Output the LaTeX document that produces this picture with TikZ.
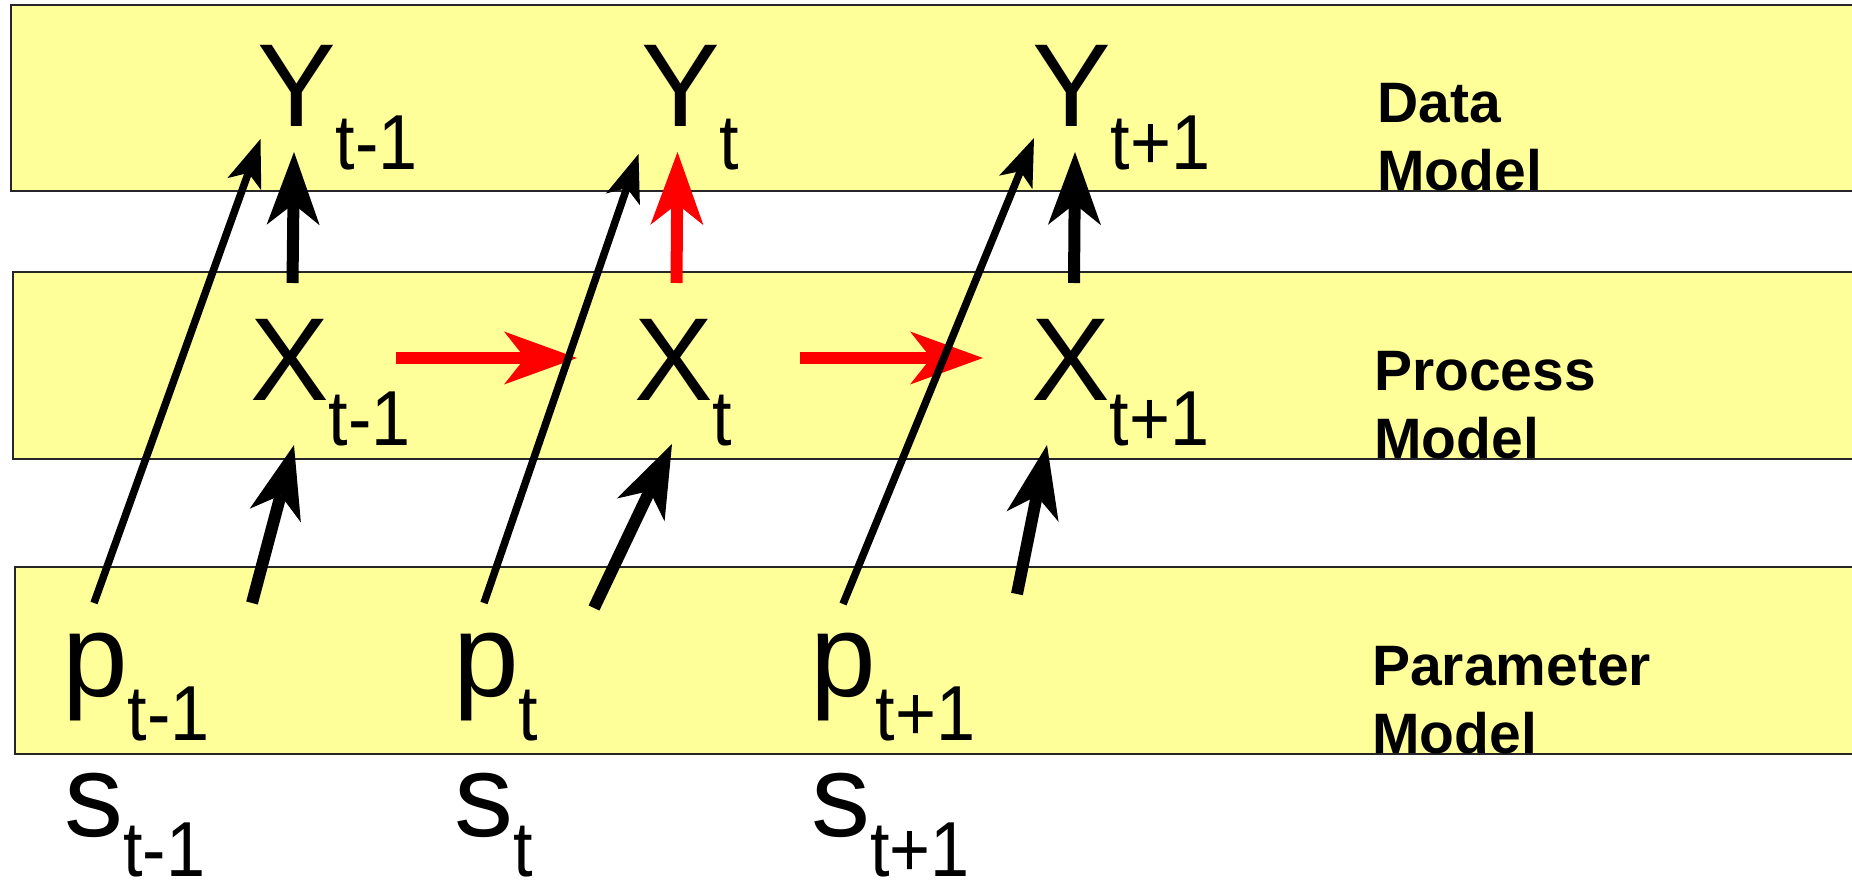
\documentclass[tikz,border=0pt]{standalone}
\usepackage{fontspec}
\setmainfont{Liberation Sans}
\usetikzlibrary{arrows.meta}
\definecolor{bandyellow}{RGB}{255,255,153}
\definecolor{arrred}{RGB}{255,0,0}
\newcommand{\mysub}[2][43pt]{\raisebox{-#1}{\scalebox{0.9}[1]{\fontsize{78}{78}\selectfont #2}}}
\begin{document}
\begin{tikzpicture}[x=1pt,y=-1pt,
  band/.style={draw=black!85, line width=2pt, fill=bandyellow},
  var/.style={anchor=base west, inner sep=0pt, font=\fontsize{118}{118}\selectfont},
  lbl/.style={anchor=base west, inner sep=0pt, font=\bfseries\fontsize{57}{68}\selectfont},
  thinarrow/.style={line width=7.5pt, -{Stealth[length=48pt,width=36pt,inset=12pt,line width=0pt]}},
  thickarrow/.style={line width=12pt, -{Stealth[length=73pt,width=53pt,inset=21pt,line width=0pt]}},
]
\useasboundingbox (0,0) rectangle (1852,882);
\clip (0,0) rectangle (1852,882);
% bands
\draw[band] (10.6,5) rectangle (1870,191.5);
\draw[band] (13,272) rectangle (1870,459);
\draw[band] (15,567) rectangle (1870,754);
% variables
\node[var] (Ytm) at (257,127) {Y\mysub{t-1}};
\node[var] (Yt)  at (641,127) {Y\mysub{t}};
\node[var] (Ytp) at (1032,127) {Y\mysub{t+1}};
\node[var] (Xtm) at (250,400) {X\mysub[45pt]{t-1}};
\node[var] (Xt)  at (634,400) {X\mysub[45pt]{t}};
\node[var] (Xtp) at (1031,400) {X\mysub[45pt]{t+1}};
\node[var] (ptm) at (62,696) {p\mysub[44pt]{t-1}};
\node[var] (pt)  at (453,696) {p\mysub[44pt]{t}};
\node[var] (ptp) at (810,696) {p\mysub[44pt]{t+1}};
\node[var] (stm) at (64,836) {s\mysub[40pt]{t-1}};
\node[var] (st)  at (454,836) {s\mysub[40pt]{t}};
\node[var] (stp) at (811,836) {s\mysub[40pt]{t+1}};
% labels
\node[lbl] (lData)  at (1377,123) {\begin{tabular}[t]{@{}l@{}}Data\\Model\end{tabular}};
\node[lbl] (lProc)  at (1374,390) {\begin{tabular}[t]{@{}l@{}}Process\\Model\end{tabular}};
\node[lbl] (lParam) at (1372,685) {\begin{tabular}[t]{@{}l@{}}Parameter\\Model\end{tabular}};
% arrow end points
\coordinate (a1s) at (94,603);   \coordinate (a1e) at (260.5,139);
\coordinate (a2s) at (484,603);  \coordinate (a2e) at (638.5,154);
\coordinate (a3s) at (843,604);  \coordinate (a3e) at (1034,138);
\coordinate (b1s) at (292.5,283); \coordinate (b1e) at (294,152);
\coordinate (b2s) at (676.5,283); \coordinate (b2e) at (677.5,152);
\coordinate (b3s) at (1074,283); \coordinate (b3e) at (1075,152);
\coordinate (c1s) at (396,358);  \coordinate (c1e) at (577,358);
\coordinate (c2s) at (800,358);  \coordinate (c2e) at (983,358);
\coordinate (d1s) at (252,603);  \coordinate (d1e) at (294,445);
\coordinate (d2s) at (594,608);  \coordinate (d2e) at (672,444);
\coordinate (d3s) at (1017,594); \coordinate (d3e) at (1047,445);
% process to data
\draw[thickarrow] (b1s) -- (b1e);
\draw[thickarrow, draw=arrred, fill=arrred] (b2s) -- (b2e);
\draw[thickarrow] (b3s) -- (b3e);
% process dynamics
\draw[thickarrow, draw=arrred, fill=arrred] (c1s) -- (c1e);
\draw[thickarrow, draw=arrred, fill=arrred] (c2s) -- (c2e);
% parameter to process
\draw[thickarrow] (d1s) -- (d1e);
\draw[thickarrow] (d2s) -- (d2e);
\draw[thickarrow] (d3s) -- (d3e);
% parameter to data
\draw[thinarrow] (a1s) -- (a1e);
\draw[thinarrow] (a2s) -- (a2e);
\draw[thinarrow] (a3s) -- (a3e);
\end{tikzpicture}
\end{document}
